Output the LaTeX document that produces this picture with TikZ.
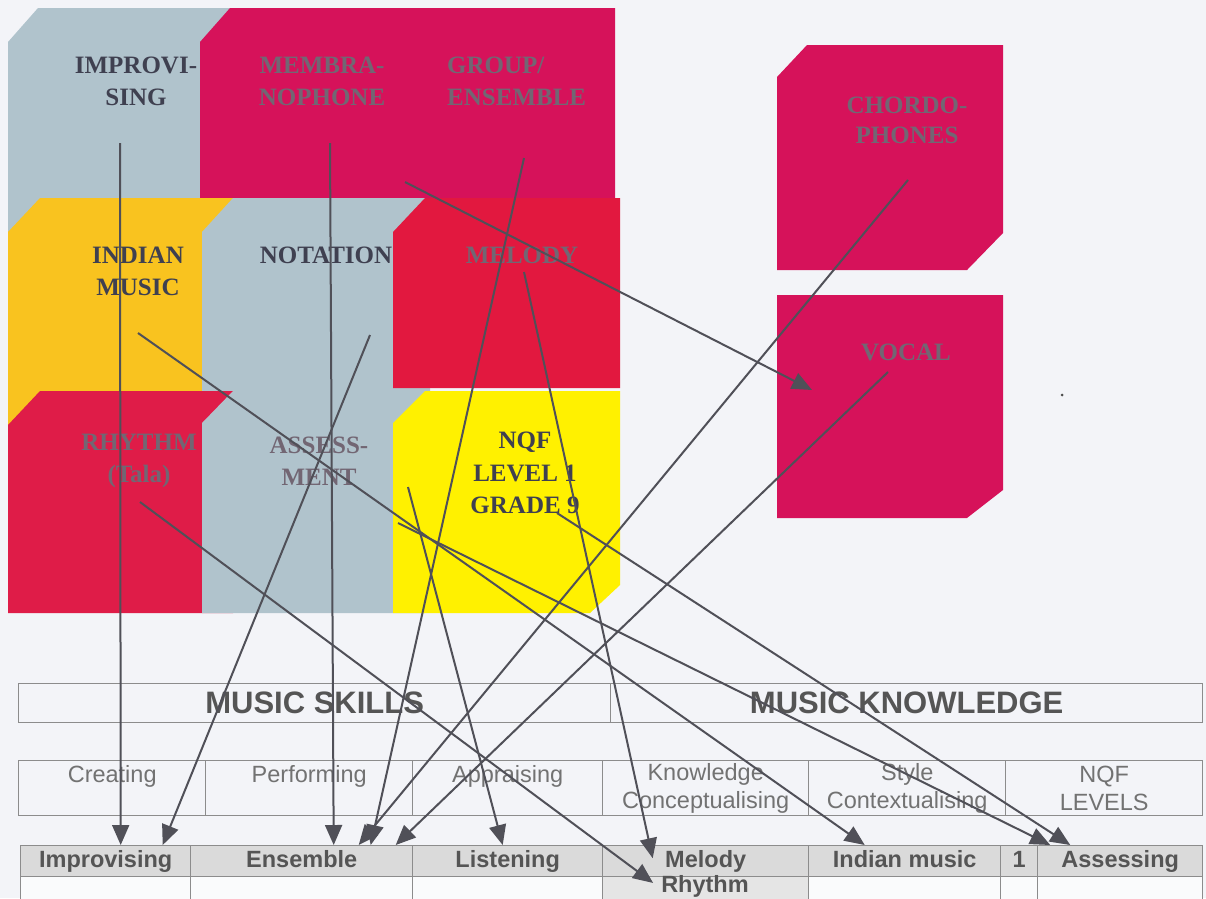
\documentclass[tikz,border=0pt]{standalone}
\usepackage{fontspec}
\setmainfont{Liberation Serif}
\newfontfamily\arialf{Liberation Sans}
\usetikzlibrary{arrows.meta,calc}
\definecolor{bg}{HTML}{F3F4F8}
\definecolor{cgrey}{HTML}{B0C3CC}
\definecolor{cred}{HTML}{D6125A}
\definecolor{cred2}{HTML}{E2183F}
\definecolor{cred3}{HTML}{DF1C48}
\definecolor{cgold}{HTML}{F9C31F}
\definecolor{cyel}{HTML}{FFF100}
\definecolor{darktxt}{HTML}{3F4050}
\definecolor{redtxt}{HTML}{726673}
\definecolor{tblline}{HTML}{8C8C8C}
\definecolor{tbltxt}{HTML}{555555}
\definecolor{tbltxtl}{HTML}{727272}
\definecolor{hdrfill}{HTML}{DADADA}
\definecolor{arrc}{HTML}{505058}
\begin{document}
\begin{tikzpicture}[x=1pt,y=-1pt,
  gtxt/.style={font=\bfseries\fontsize{25}{32}\selectfont, align=center, inner sep=0pt, text=darktxt},
  rtxt/.style={gtxt, text=redtxt},
  tcell/.style={draw=tblline, line width=1.4pt, anchor=north west, inner sep=0pt},
  rowA/.style={tcell, minimum height=39pt, font=\arialf\bfseries\fontsize{31}{34}\selectfont, text=tbltxt, text height=22pt, text depth=1pt},
  rowB/.style={tcell, minimum height=55pt, font=\arialf\fontsize{23.5}{28}\selectfont, text=tbltxtl, align=center},
  rowC/.style={tcell, minimum height=31pt, fill=hdrfill, font=\arialf\bfseries\fontsize{23.5}{26}\selectfont, text=tbltxt, text height=17pt, text depth=5pt},
  rowD/.style={tcell, minimum height=31pt, fill=white!60!bg},
  arr/.style={draw=arrc, line width=2pt, -{Triangle[length=20pt,width=17pt]}}]
\useasboundingbox (0,0) rectangle (1206,898);
\clip (0,0) rectangle (1206,898);
\fill[bg] (0,0) rectangle (1206,898);

% ---- grid cells ----
\fill[cgrey] (8,42) -- (38,8) -- (240,8) -- (240,240) -- (8,240) -- cycle;
\fill[cred]  (200,42) -- (230,8) -- (615,8) -- (615,240) -- (200,240) -- cycle;
\fill[cgold] (8,232) -- (40,198) -- (240,198) -- (240,430) -- (8,430) -- cycle;
\fill[cgrey] (202,232) -- (233,198) -- (430,198) -- (430,430) -- (202,430) -- cycle;
\node[gtxt] (notation) at (326,255) {NOTATION};
\fill[cred2] (393,232) -- (425,198) -- (620,198) -- (620,388) -- (393,388) -- cycle;
\fill[cred3] (8,425) -- (40,391) -- (233,391) -- (233,613) -- (8,613) -- cycle;
\fill[cgrey] (202,423) -- (233,391) -- (425,391) -- (425,613) -- (202,613) -- cycle;
\fill[cyel]  (393,423) -- (425,391) -- (620,391) -- (620,585) -- (590,613) -- (393,613) -- cycle;

% right boxes
\fill[cred] (777,77) -- (807,45) -- (1003,45) -- (1003,233) -- (967,270) -- (777,270) -- cycle;
\fill[cred] (777,295) -- (1003,295) -- (1003,490) -- (967,518) -- (777,518) -- cycle;
\fill[black!70] (1062,395) circle (1.5);

% ---- grid texts ----
\node[gtxt] (improvi) at (136,81) {IMPROVI-\\SING};
\node[rtxt] (membra) at (322,81) {MEMBRA-\\NOPHONE};
\node[rtxt, align=left, anchor=west] (group) at (447,81) {GROUP/\\ENSEMBLE};
\node[gtxt] (indian) at (138,271) {INDIAN\\MUSIC};
\node[rtxt] (melody) at (522,255) {MELODY};
\node[rtxt] (rhythm) at (139,461) {RHYTHM\\(Tala)};
\node[rtxt] (assess) at (319,461) {ASSESS-\\MENT};
\node[gtxt, font=\bfseries\fontsize{25}{32.5}\selectfont] (nqf) at (525,473) {NQF\\LEVEL 1\\GRADE 9};
\node[rtxt, font=\bfseries\fontsize{25}{30}\selectfont] (chordo) at (907,120) {CHORDO-\\PHONES};
\node[rtxt] (vocal) at (906,352) {VOCAL};

% ---- table ----
\node[rowA, minimum width=592pt] (skills) at (18,683) {MUSIC SKILLS};
\node[rowA, minimum width=592pt] (knowledge) at (610,683) {MUSIC KNOWLEDGE};

\node[rowB, minimum width=187pt] (creating) at (18,760) {Creating\\\mbox{}};
\node[rowB, minimum width=207pt] (performing) at (205,760) {Performing\\\mbox{}};
\node[rowB, minimum width=190pt] (appraising) at (412,760) {Appraising\\\mbox{}};
\node[rowB, minimum width=206pt] (knowcon) at (602,760) {Knowledge\\Conceptualising};
\node[rowB, minimum width=197pt] (stylecon) at (808,760) {Style\\Contextualising};
\node[rowB, minimum width=197pt] (nqflev) at (1005,760) {NQF\\LEVELS};

\node[rowC, minimum width=170pt] (improv) at (20,845) {Improvising};
\node[rowC, minimum width=222pt] (ensemble) at (190,845) {Ensemble};
\node[rowC, minimum width=190pt] (listening) at (412,845) {Listening};
\node[rowC, minimum width=206pt] (melodyc) at (602,845) {Melody};
\node[rowC, minimum width=192pt] (indianc) at (808,845) {Indian music};
\node[rowC, minimum width=37pt] (one) at (1000,845) {1};
\node[rowC, minimum width=165pt] (assessing) at (1037,845) {Assessing};

\node[rowD, minimum width=170pt] (d1) at (20,876) {};
\node[rowD, minimum width=222pt] (d2) at (190,876) {};
\node[rowD, minimum width=190pt] (d3) at (412,876) {};
\node[rowD, minimum width=206pt, fill=hdrfill!70!white] (rhythmc) at (602,876) {};
\node[rowD, minimum width=192pt] (d5) at (808,876) {};
\node[rowD, minimum width=37pt] (d6) at (1000,876) {};
\node[rowD, minimum width=165pt] (d7) at (1037,876) {};
\node[anchor=base, inner sep=0pt, font=\arialf\bfseries\fontsize{23.5}{26}\selectfont, text=tbltxt] (rhythmt) at (705,892) {Rhythm};

% ---- connector start points ----
\coordinate (sImp) at (120,143);
\coordinate (sMem) at (330,143);
\coordinate (sGrp) at (524,158);
\coordinate (sMemV) at (405,182);
\coordinate (sCho) at (908,180);
\coordinate (sVoc) at (888,372);
\coordinate (sNot) at (370,335);
\coordinate (sInd) at (138,333);
\coordinate (sRhy) at (140,502);
\coordinate (sAss) at (398,523);
\coordinate (sNqf) at (557,513);
\coordinate (sMel) at (524,272);
\coordinate (sAss2) at (408,487);

% ---- connectors ----
\draw[arr] (sImp) -- ($(improv.north)+(15,0)$);
\draw[arr] (sNot) -- ($(improv.north)+(57,0)$);
\draw[arr] (sMem) -- ($(ensemble.north)+(32,0)$);
\draw[arr] (sGrp) -- ($(ensemble.north)+(69,0)$);
\draw[arr] (sCho) -- ($(ensemble.north)+(57,0)$);
\draw[arr] (sVoc) -- ($(ensemble.north)+(94,0)$);
\draw[arr] (sMemV) -- ($(vocal)+(-94,38)$);
\draw[arr] (sAss2) -- ($(listening.north)+(-5,0)$);
\draw[arr] (sMel) -- ($(melodyc.center)+(-53,-3)$);
\draw[arr] (sRhy) -- ($(rhythmt.west)+(-8,-3)$);
\draw[arr] (sInd) -- ($(indianc.north)+(-40,0)$);
\draw[arr] (sAss) -- ($(assessing.north)+(-70,0)$);
\draw[arr] (sNqf) -- ($(assessing.north)+(-50,0)$);
\end{tikzpicture}
\end{document}
